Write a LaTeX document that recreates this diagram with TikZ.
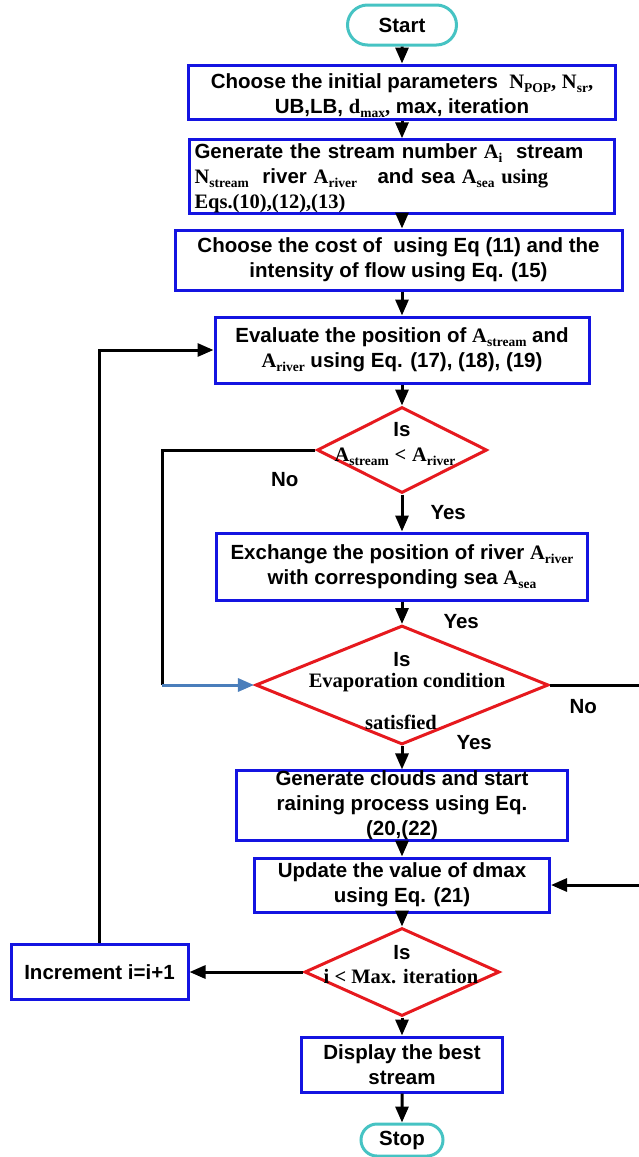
\documentclass[tikz,border=0pt]{standalone}
\usepackage{fontspec}
\setmainfont{Liberation Sans}
\newfontfamily\tms{Liberation Serif}
\usetikzlibrary{arrows.meta,shapes.geometric,shapes.misc}
\definecolor{boxblue}{RGB}{20,20,225}
\definecolor{dred}{RGB}{230,25,30}
\definecolor{termcyan}{RGB}{70,195,195}
\definecolor{loopblue}{RGB}{74,126,187}
\newcommand\tsb[2]{{\tms #1\raisebox{-0.2em}{\fontsize{13.5}{14}\selectfont #2}}}

\begin{document}
\begin{tikzpicture}[x=1pt, y=-1pt, >={Triangle[length=16pt,width=13pt]},
    font=\fontsize{20.5}{25}\selectfont\bfseries,
    box/.style={draw=boxblue, line width=3pt, inner sep=0pt, align=center},
    term/.style={rounded rectangle, draw=termcyan, line width=3pt, inner sep=0pt},
    decision/.style={diamond, draw=dred, line width=3pt, inner sep=0pt},
    txt/.style={inner sep=0pt},
    flow/.style={->, line width=3pt}]
    \useasboundingbox (0,0) rectangle (638,1157);

    \node[term, minimum width=109pt, minimum height=40pt] (start) at (402,25) {Start};
    \node[box, minimum width=427pt, minimum height=54pt] (init) at (402,92)
        {\rule{0pt}{23pt}Choose the initial parameters \ \tsb{N}{POP}{\tms ,} \tsb{N}{sr}{\tms ,}\\
         UB,LB, \tsb{d}{max}{\tms ,} max, iteration};
    \node[box, minimum width=425pt, minimum height=73pt, text width=415pt, align=left, inner xsep=5pt] (gen) at (402,176.5)
        {\rule{0pt}{19pt}Generate the stream number \tsb{A}{i} \ stream\\
         \tsb{N}{stream} \ river \tsb{A}{river} \ \ and sea \tsb{A}{sea} {\tms using}\\
         {\tms Eqs.(10),(12),(13)}};
    \node[box, minimum width=447pt, minimum height=60pt] (cost) at (398.5,260)
        {Choose the cost of \ using Eq (11) and the\\
         intensity of flow using Eq. (15)};
    \node[box, minimum width=374pt, minimum height=66pt] (eval) at (402,350)
        {Evaluate the position of \tsb{A}{stream} and\\
         \tsb{A}{river} using Eq. (17), (18), (19)};
    \node[decision, minimum width=170pt, minimum height=86pt] (cmp) at (402,450) {};
    \node[txt] (cmpis) at (402,430) {Is};
    \node[txt] (cmptxt) at (395,457) {\tsb{A}{stream} {\tms <} \tsb{A}{river}};
    \node[box, minimum width=371pt, minimum height=67pt] (exch) at (402,566.5)
        {Exchange the position of river \tsb{A}{river}\\
         with corresponding sea \tsb{A}{sea}};
    \node[decision, minimum width=293pt, minimum height=119pt] (evap) at (402,685) {};
    \node[txt] (evapis) at (402,660) {Is};
    \node[txt] (evaptxt) at (407,683) {\tms Evaporation condition};
    \node[txt] (evapsat) at (401,722) {\tms satisfied};
    \node[box, minimum width=331pt, minimum height=67pt] (clouds) at (402,805.5)
        {Generate clouds and start\\
         raining process using Eq.\\
         (20,(22)};
    \node[box, minimum width=295pt, minimum height=54pt] (upd) at (402,885)
        {Update the value of dmax\\
         using Eq. (21)};
    \node[decision, minimum width=195pt, minimum height=88pt] (iter) at (402,972) {};
    \node[txt] (iteris) at (402,953) {Is};
    \node[txt] (itertxt) at (401,977) {\tms i < Max. iteration};
    \node[box, minimum width=177pt, minimum height=55pt] (inc) at (99.5,972) {Increment i=i+1};
    \node[box, minimum width=201pt, minimum height=55pt] (disp) at (402,1064.5)
        {Display the best\\
         stream};
    \node[term, minimum width=82pt, minimum height=32pt] (stop) at (402,1140) {Stop};

    \draw[flow] (start) -- (init);
    \draw[flow] (init) -- (gen);
    \draw[flow] (gen) -- (gen |- cost.north);
    \draw[flow] (eval |- cost.south) -- (eval);
    \draw[flow] (eval) -- (cmp);
    \draw[flow] (cmp) -- node[txt, midway, right=27pt] (yes1) {Yes} (exch);
    \draw[flow] (exch) -- node[txt, pos=0.88, right=40pt] (yes2) {Yes} (evap);
    \draw[flow] (evap) -- node[txt, pos=0, right=53pt, yshift=3pt] (yes3) {Yes} (clouds);
    \draw[flow] (clouds) -- (upd);
    \draw[flow] (upd) -- (iter);
    \draw[flow] (iter) -- (disp);
    \draw[flow] (disp) -- (stop);
    \draw[flow] (iter) -- (inc);
    \draw[flow] (inc) |- (eval);

    \coordinate (inner) at (162,685);
    \draw[line width=3pt] (cmp) -| node[txt, pos=0.1, below=21pt] (no1) {No} (inner);
    \draw[flow, draw=loopblue] (inner) -- (evap);
    \draw[flow] (evap.east) -- node[txt, pos=0.37, below=13pt] (no2) {No} ++(90,0) |- (upd.east);
\end{tikzpicture}
\end{document}
